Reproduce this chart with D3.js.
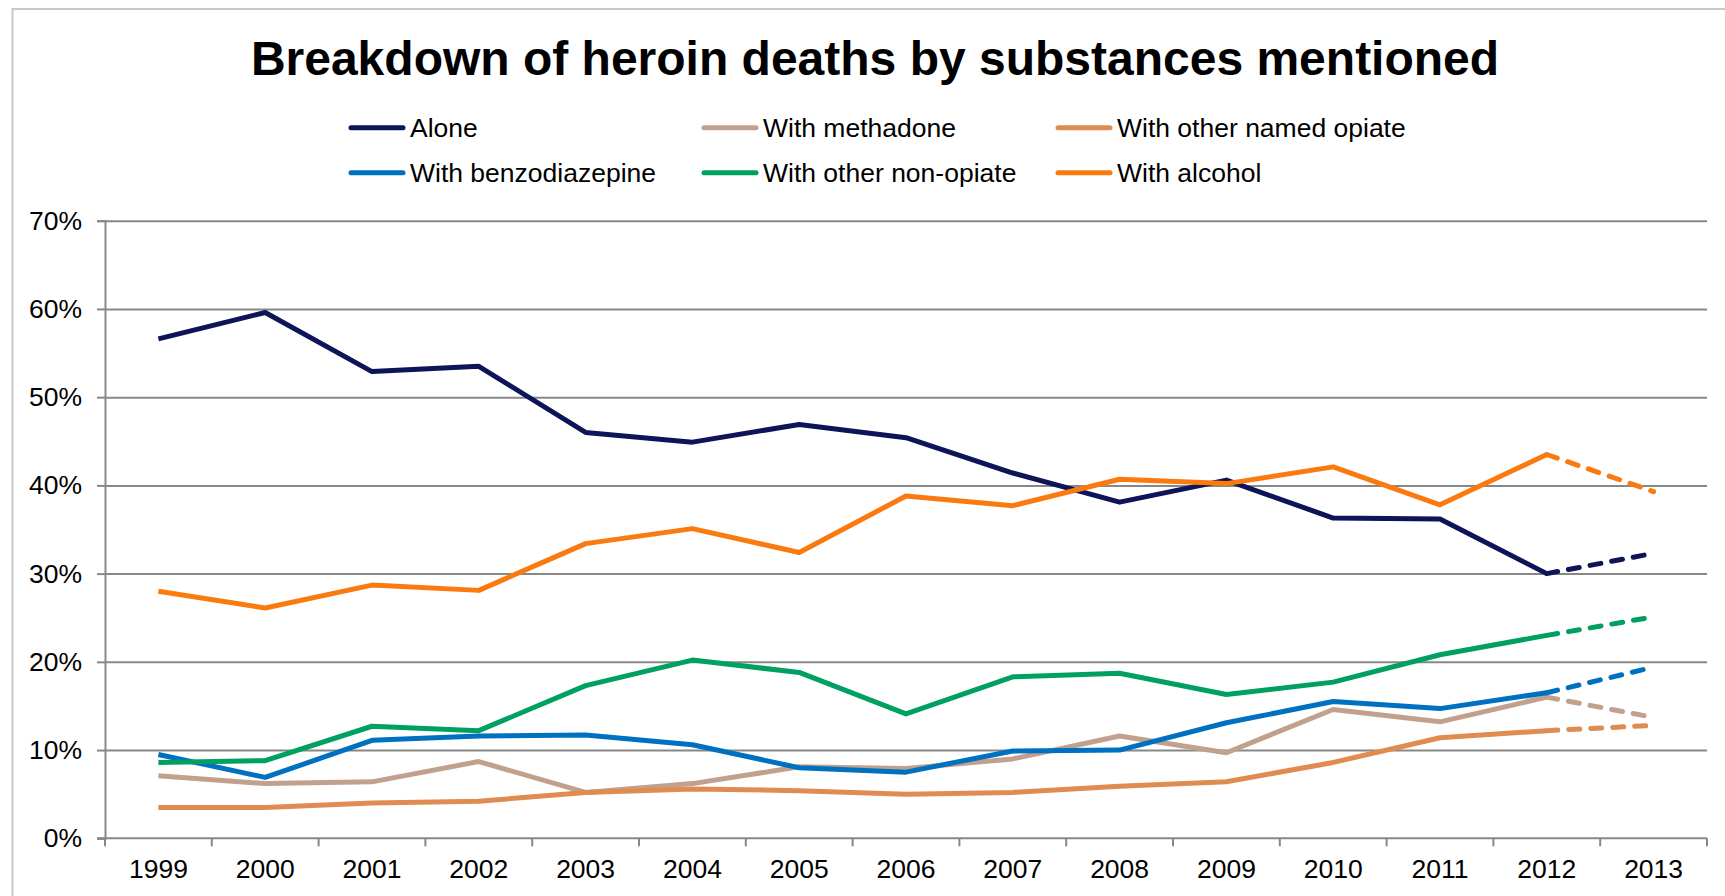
<!DOCTYPE html>
<html>
<head>
<meta charset="utf-8">
<script src="https://cdn.jsdelivr.net/npm/d3@7"></script>
<style>
  body { margin: 0; background: #fff; }
  text { font-family: 'Liberation Sans', Arial, sans-serif; }
</style>
</head>
<body>
<svg id="canvas"></svg>
<script>
let years = ['1999', '2000', '2001', '2002', '2003', '2004', '2005', '2006', '2007', '2008', '2009', '2010', '2011', '2012', '2013']
let yTicks = [0, 10, 20, 30, 40, 50, 60, 70]

let seriesNames = ['Alone', 'With methadone', 'With other named opiate', 'With benzodiazepine', 'With other non-opiate', 'With alcohol']
let seriesColors = ['#0d1457', '#c2a08e', '#e08b4f', '#0070c0', '#00a062', '#fa7a10']

let alone = [56.6, 59.6, 52.9, 53.5, 46.0, 44.9, 46.9, 45.4, 41.4, 38.1, 40.6, 36.3, 36.2, 30.0, 32.3]
let methadone = [7.1, 6.2, 6.4, 8.7, 5.2, 6.2, 8.1, 7.9, 9.0, 11.6, 9.7, 14.6, 13.2, 16.0, 13.7]
let otherOpiate = [3.5, 3.5, 4.0, 4.2, 5.2, 5.6, 5.4, 5.0, 5.2, 5.9, 6.4, 8.6, 11.4, 12.2, 12.8]
let benzodiazepine = [9.5, 6.9, 11.1, 11.6, 11.7, 10.6, 8.0, 7.5, 9.9, 10.0, 13.1, 15.5, 14.7, 16.5, 19.4]
let nonOpiate = [8.6, 8.8, 12.7, 12.2, 17.3, 20.2, 18.8, 14.1, 18.3, 18.7, 16.3, 17.7, 20.8, 23.0, 25.1]
let alcohol = [28.0, 26.1, 28.7, 28.1, 33.4, 35.1, 32.4, 38.8, 37.7, 40.7, 40.2, 42.1, 37.8, 43.5, 39.3]

let seriesValues = [alone, methadone, otherOpiate, benzodiazepine, nonOpiate, alcohol]
// last point (2013) is drawn dashed
let solidCount = 14

let width = 1725
let height = 896
let plotLeft = 105
let plotRight = 1707
let plotTop = 220.7
let plotBottom = 838.3

let canvas = d3.select('#canvas')
canvas.attr('width', width).attr('height', height)

// light frame round the chart
canvas.append('line')
    .attr('x1', 12.5).attr('x2', width).attr('y1', 9).attr('y2', 9)
    .attr('stroke', '#c8c8c8').attr('stroke-width', 2)
canvas.append('line')
    .attr('x1', 12.5).attr('x2', 12.5).attr('y1', 8).attr('y2', height)
    .attr('stroke', '#c8c8c8').attr('stroke-width', 2)

let xScale = d3.scaleBand()
    .domain(years)
    .range([plotLeft, plotRight])
let yScale = d3.scaleLinear()
    .domain([0, 70])
    .range([plotBottom, plotTop])

let xMid = (d) => xScale(d) + xScale.bandwidth() / 2

// title
canvas.append('text')
    .attr('x', 875)
    .attr('y', 75)
    .attr('text-anchor', 'middle')
    .style('font-size', '48px')
    .style('font-weight', 'bold')
    .text('Breakdown of heroin deaths by substances mentioned')

// legend
let legendCols = [349, 702, 1056]
let legendRows = [127.7, 172.7]
let legend = canvas.append('g')
seriesNames.forEach((name, i) => {
    let lx = legendCols[i % 3]
    let ly = legendRows[Math.floor(i / 3)]
    legend.append('line')
        .attr('x1', lx + 2).attr('x2', lx + 54)
        .attr('y1', ly).attr('y2', ly)
        .attr('stroke', seriesColors[i])
        .attr('stroke-width', 5)
        .attr('stroke-linecap', 'round')
    legend.append('text')
        .attr('x', lx + 61)
        .attr('y', ly + 9)
        .style('font-size', '26.5px')
        .attr('fill', '#000')
        .text(name)
})

// gridlines
let grid = d3.axisLeft(yScale)
    .tickValues(yTicks.slice(1))
    .tickSize(-(plotRight - plotLeft))
    .tickFormat('')
canvas.append('g')
    .attr('transform', 'translate(' + plotLeft + ',0)')
    .call(grid)
    .call(g => g.select('.domain').remove())
    .call(g => g.selectAll('line').attr('stroke', '#878787').attr('stroke-width', 2))

// y axis
let yAxis = d3.axisLeft(yScale)
    .tickValues(yTicks)
    .tickSize(8)
    .tickPadding(15)
    .tickFormat((d) => d + '%')
canvas.append('g')
    .attr('id', 'y-axis')
    .attr('transform', 'translate(' + plotLeft + ',0)')
    .call(yAxis)
    .call(g => g.select('.domain').attr('stroke', '#878787').attr('stroke-width', 2))
    .call(g => g.selectAll('line').attr('stroke', '#878787').attr('stroke-width', 2))
    .call(g => g.selectAll('text').style('font-size', '26.5px').attr('fill', '#000'))

// x axis: labels centred in bands, ticks on the band edges
let xAxis = d3.axisBottom(xScale)
    .tickSize(0)
    .tickPadding(21)
canvas.append('g')
    .attr('id', 'x-axis')
    .attr('transform', 'translate(0,' + plotBottom + ')')
    .call(xAxis)
    .call(g => g.select('.domain').remove())
    .call(g => g.selectAll('text').style('font-size', '26.5px').attr('fill', '#000'))

let edges = years.map((d) => xScale(d)).concat([plotRight])
canvas.append('g')
    .selectAll('line')
    .data(edges)
    .enter()
    .append('line')
    .attr('x1', (d) => d).attr('x2', (d) => d)
    .attr('y1', plotBottom).attr('y2', plotBottom + 8)
    .attr('stroke', '#878787').attr('stroke-width', 2)
canvas.append('line')
    .attr('x1', plotLeft - 8).attr('x2', plotRight)
    .attr('y1', plotBottom).attr('y2', plotBottom)
    .attr('stroke', '#878787').attr('stroke-width', 2)

// series lines
let line = d3.line()
    .x((el) => xMid(el.year))
    .y((el) => yScale(el.value))

seriesValues.forEach((vals, i) => {
    let pts = vals.map((v, j) => ({ year: years[j], value: v }))
    canvas.append('path')
        .datum(pts.slice(0, solidCount))
        .attr('d', line)
        .attr('fill', 'none')
        .attr('stroke', seriesColors[i])
        .attr('stroke-width', 5)
        .attr('stroke-linejoin', 'round')
    canvas.append('path')
        .datum(pts.slice(solidCount - 1))
        .attr('d', line)
        .attr('fill', 'none')
        .attr('stroke', seriesColors[i])
        .attr('stroke-width', 5)
        .attr('stroke-linecap', 'round')
        .attr('stroke-dasharray', '11,11')
})
</script>
</body>
</html>
